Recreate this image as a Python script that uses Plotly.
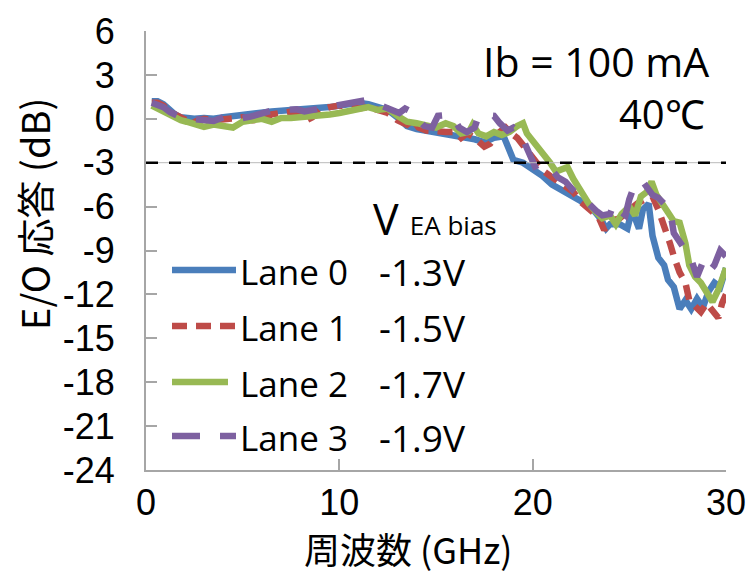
import plotly.graph_objects as go

# ---------------- data ----------------
lane_names = ["Lane 0", "Lane 1", "Lane 2", "Lane 3"]
bias_labels = ["-1.3V", "-1.5V", "-1.7V", "-1.9V"]

freq0 = [0.3, 0.6, 0.9, 1.2, 1.5, 1.8, 2.1, 2.5, 3.0, 3.5, 4.0, 4.5, 5.0, 5.5, 6.0, 6.5, 7.0, 7.5,
         8.0, 8.5, 9.0, 9.5, 10.0, 10.5, 11.0, 11.5, 12.0, 12.5, 13.0, 13.5, 14.0, 14.5, 15.0,
         15.5, 16.0, 16.5, 17.0, 17.5, 18.0, 18.5, 18.8, 19.0, 19.5, 20.0, 20.5, 21.0, 21.5,
         22.0, 22.5, 23.0, 23.5, 23.8, 24.0, 24.5, 24.9, 25.1, 25.3, 25.5, 25.7, 26.0, 26.2,
         26.5, 26.8, 27.0, 27.3, 27.6, 27.9, 28.2, 28.5, 28.8, 29.1, 29.4, 29.7, 30.0]
lane0_db = [1.2, 1.2, 1.0, 0.6, 0.3, 0.1, 0.05, 0.0, 0.05, 0.0, 0.1, 0.2, 0.25, 0.3, 0.4, 0.5, 0.55,
            0.6, 0.55, 0.6, 0.75, 0.8, 0.9, 1.0, 1.1, 1.0, 0.8, 0.6, 0.1, -0.5, -0.7, -0.8, -0.9,
            -1.0, -1.1, -1.3, -1.4, -1.6, -1.3, -1.2, -2.2, -2.8, -3.0, -3.4, -3.9, -4.5, -4.9,
            -5.3, -5.7, -6.0, -6.8, -7.5, -7.2, -7.2, -7.5, -6.4, -6.8, -7.5, -6.2, -5.8, -8.0,
            -9.5, -10.0, -11.0, -11.5, -13.0, -12.4, -13.0, -12.3, -12.9, -11.8, -11.2, -11.5, -10.2]

freq1 = [0.3, 0.6, 0.9, 1.2, 1.5, 1.8, 2.1, 2.4, 2.7, 3.0, 3.5, 4.0, 4.5, 5.0, 5.5, 6.0, 6.5, 7.0,
         7.5, 8.0, 8.3, 8.6, 9.0, 9.5, 10.0, 10.5, 11.0, 11.5, 12.0, 12.5, 13.0, 13.5, 13.8, 14.1,
         14.5, 15.0, 15.5, 16.0, 16.3, 16.6, 17.0, 17.5, 17.8, 18.2, 18.6, 18.9, 19.2, 19.5, 19.8,
         20.1, 20.5, 20.9, 21.3, 21.7, 22.1, 22.5, 23.0, 23.4, 23.7, 24.0, 24.5, 25.0, 25.4, 25.8,
         26.2, 26.5, 26.8, 27.1, 27.3, 27.6, 27.9, 28.1, 28.4, 28.7, 29.0, 29.3, 29.6, 29.8, 30.0]
lane1_db = [1.1, 1.1, 0.9, 0.5, 0.3, 0.1, -0.2, -0.3, -0.1, 0.0, -0.1, 0.0, 0.1, 0.1, -0.1, -0.05,
            0.3, 0.4, 0.5, 0.3, -0.1, 0.1, 0.6, 0.8, 0.9, 0.8, 0.7, 0.8, 0.6, 0.4, -0.1, -0.4, -0.1,
            -0.6, -0.8, -0.9, -0.9, -0.9, -1.3, -1.0, -1.3, -1.9, -1.7, -1.0, -0.6, -1.0, -1.3,
            -1.8, -2.3, -2.7, -3.5, -3.9, -4.3, -4.6, -5.0, -5.7, -6.2, -6.7, -7.6, -7.0, -6.8,
            -6.2, -5.8, -5.5, -5.3, -6.2, -7.2, -8.5, -9.4, -10.5, -11.2, -12.4, -12.8, -13.2,
            -12.6, -13.2, -13.6, -12.6, -12.0]

freq2 = [0.3, 0.6, 0.9, 1.2, 1.5, 1.8, 2.1, 2.5, 3.0, 3.5, 4.0, 4.5, 5.0, 5.5, 6.0, 6.5, 7.0, 7.5,
         8.0, 8.5, 9.0, 9.5, 10.0, 10.5, 11.0, 11.5, 12.0, 12.5, 13.0, 13.5, 14.0, 14.5, 15.0,
         15.5, 15.9, 16.3, 16.7, 16.9, 17.2, 17.6, 18.0, 18.4, 18.8, 19.2, 19.5, 19.7, 20.0, 20.3,
         20.6, 20.9, 21.2, 21.5, 21.8, 22.1, 22.5, 22.9, 23.3, 23.6, 24.0, 24.3, 24.6, 25.0, 25.3,
         25.6, 25.9, 26.15, 26.4, 26.7, 27.0, 27.3, 27.6, 27.9, 28.1, 28.4, 28.7, 29.0, 29.3,
         29.6, 30.0]
lane2_db = [0.9, 0.7, 0.5, 0.2, 0.0, -0.1, -0.2, -0.4, -0.55, -0.4, -0.5, -0.6, -0.2, -0.1, 0.0,
            -0.2, 0.05, 0.05, 0.1, 0.1, 0.2, 0.3, 0.4, 0.5, 0.7, 0.8, 0.6, 0.7, 0.2, -0.2, -0.3,
            -0.5, -0.6, -0.3, -0.5, -1.0, -0.9, -0.4, -1.0, -1.2, -0.9, -1.1, -0.9, -0.5, -0.3,
            -1.0, -1.5, -2.0, -2.4, -3.0, -3.6, -3.5, -3.3, -4.1, -5.0, -5.8, -6.4, -6.8, -6.6,
            -7.2, -6.5, -6.0, -6.6, -5.3, -5.0, -4.3, -5.2, -5.8, -6.3, -7.0, -7.1, -8.5, -10.0,
            -10.8, -11.2, -11.8, -12.5, -11.7, -10.2]

freq3 = [0.3, 0.6, 0.9, 1.25, 1.6, 1.9, 2.3, 2.7, 3.1, 3.5, 3.8, 4.2, 4.6, 5.0, 5.4, 5.8, 6.2, 6.6,
         7.0, 7.4, 7.8, 8.2, 8.6, 8.9, 9.3, 9.7, 10.1, 10.5, 10.9, 11.3, 11.7, 12.0, 12.4, 12.8,
         13.1, 13.4, 13.7, 14.0, 14.4, 14.8, 15.1, 15.5, 15.9, 16.2, 16.6, 17.0, 17.2, 17.6, 18.0,
         18.3, 18.7, 19.0, 19.3, 19.6, 19.9, 20.2, 20.6, 21.0, 21.3, 21.7, 22.1, 22.5, 22.9, 23.3,
         23.6, 24.0, 24.2, 24.5, 24.8, 25.0, 25.3, 25.7, 25.9, 26.2, 26.5, 26.8, 27.1, 27.3, 27.6,
         27.9, 28.2, 28.5, 28.8, 29.1, 29.4, 29.7, 30.0]
lane3_db = [1.1, 1.0, 0.8, 0.45, 0.2, 0.05, 0.0, -0.1, -0.1, -0.15, 0.0, 0.2, 0.1, 0.05, 0.15, 0.3,
            0.5, 0.6, 0.6, 0.6, 0.65, 0.5, 0.6, 0.75, 0.85, 0.95, 1.0, 1.05, 1.2, 1.25, 1.15, 1.0,
            0.8, 0.5, 0.4, 0.7, 0.5, 0.05, -0.5, -0.6, 0.2, 0.25, 0.1, -0.6, -0.9, -0.6, 0.2, 0.25,
            0.2, -0.3, -0.8, -0.6, -0.9, -1.7, -2.6, -3.5, -3.6, -3.5, -4.0, -4.3, -4.9, -5.3,
            -5.8, -6.3, -6.6, -6.5, -5.8, -6.3, -6.6, -5.5, -4.4, -4.3, -4.6, -5.2, -5.4, -5.8,
            -6.2, -7.8, -8.5, -9.0, -9.6, -10.8, -9.8, -10.5, -10.0, -9.0, -9.4]

ref_level_db = -3
x_ticks = [0, 10, 20, 30]
y_ticks = [6, 3, 0, -3, -6, -9, -12, -15, -18, -21, -24]

series_freq = [freq0, freq1, freq2, freq3]
series_db = [lane0_db, lane1_db, lane2_db, lane3_db]

# ---------------- style ----------------
colors = ["#4A7EBB", "#BE4B48", "#98B954", "#7D60A0"]
dashes = ["solid", "15px,9px", "solid", "28px,20px"]
LW = 6.5
AXIS_GRAY = "#A6A6A6"
W, H = 746, 574
L, R, T, B = 146, 20, 31, 104
PW, PH = W - L - R, H - T - B


def px(xp):
    return (xp - L) / PW


def py(yp):
    return (H - B - yp) / PH


fig = go.Figure()
for i in range(4):
    fig.add_trace(go.Scatter(
        x=series_freq[i], y=series_db[i], mode="lines", name=lane_names[i],
        line=dict(color=colors[i], width=LW, dash=dashes[i]),
        showlegend=False, hoverinfo="skip"))

shapes = []
# -3 dB reference line
shapes.append(dict(type="line", xref="x", yref="y", x0=0, x1=30, y0=ref_level_db, y1=ref_level_db,
                   line=dict(color="#BBBBBB", width=1), layer="above"))
shapes.append(dict(type="line", xref="x", yref="y", x0=0, x1=30, y0=ref_level_db, y1=ref_level_db,
                   line=dict(color="black", width=2.5, dash="12px,11px"), layer="above"))

annotations = []
leg_rows = [270, 326, 382, 436]
leg_line_end = [236, 237, 228, 236]
for i in range(4):
    yy = leg_rows[i]
    shapes.append(dict(type="line", xref="paper", yref="paper", x0=px(172), x1=px(leg_line_end[i]),
                       y0=py(yy), y1=py(yy),
                       line=dict(color=colors[i], width=LW, dash=dashes[i]), layer="above"))
    annotations.append(dict(xref="paper", yref="paper", x=px(238), y=py(yy + 1), xanchor="left",
                            yanchor="middle", text=lane_names[i], showarrow=False,
                            font=dict(family="Open Sans", size=35, color="black")))
    annotations.append(dict(xref="paper", yref="paper", x=px(377), y=py(yy + 1), xanchor="left",
                            yanchor="middle", text=bias_labels[i], showarrow=False,
                            font=dict(family="Open Sans", size=37, color="black")))

annotations.append(dict(xref="paper", yref="paper", x=px(371), y=py(218), xanchor="left",
                        yanchor="middle",
                        text="V <span style='font-size:26px'>EA bias</span>", showarrow=False,
                        font=dict(family="Open Sans", size=43, color="black")))
annotations.append(dict(xref="paper", yref="paper", x=px(711), y=py(61), xanchor="right",
                        yanchor="middle", text="Ib = 100 mA", showarrow=False,
                        font=dict(family="Open Sans", size=41, color="black")))
annotations.append(dict(xref="paper", yref="paper", x=px(707), y=py(113), xanchor="right",
                        yanchor="middle", text="40℃", showarrow=False,
                        font=dict(family="Open Sans", size=40, color="black")))
# axis titles
annotations.append(dict(xref="paper", yref="paper", x=px(408), y=py(548), xanchor="center",
                        yanchor="middle", text="周波数 (GHz)", showarrow=False,
                        font=dict(family="Noto Sans CJK JP", size=36, color="black")))
annotations.append(dict(xref="paper", yref="paper", x=px(33), y=py(214), xanchor="center",
                        yanchor="middle", text="E/O 応答 (dB)", showarrow=False, textangle=-90,
                        font=dict(family="Noto Sans CJK JP", size=38, color="black")))

axis_common = dict(showline=True, linecolor=AXIS_GRAY, linewidth=2, ticks="inside",
                   ticklen=11, tickwidth=1.5, tickcolor=AXIS_GRAY, showgrid=False,
                   zeroline=False, mirror=False, ticklabeloverflow="allow", automargin=False,
                   tickfont=dict(family="Liberation Sans", size=36, color="black"))

fig.update_layout(
    width=W, height=H, margin=dict(l=L, r=R, t=T, b=B, pad=0, autoexpand=False),
    paper_bgcolor="white", plot_bgcolor="white",
    xaxis=dict(range=[0, 30], tickvals=x_ticks, ticktext=[str(v) for v in x_ticks],
               ticklabelstandoff=0, **axis_common),
    yaxis=dict(range=[-24, 6], tickvals=y_ticks, ticktext=[str(v) for v in y_ticks],
               ticklabelstandoff=22, **axis_common),
    shapes=shapes, annotations=annotations, showlegend=False,
)

fig.write_html("out.html")
